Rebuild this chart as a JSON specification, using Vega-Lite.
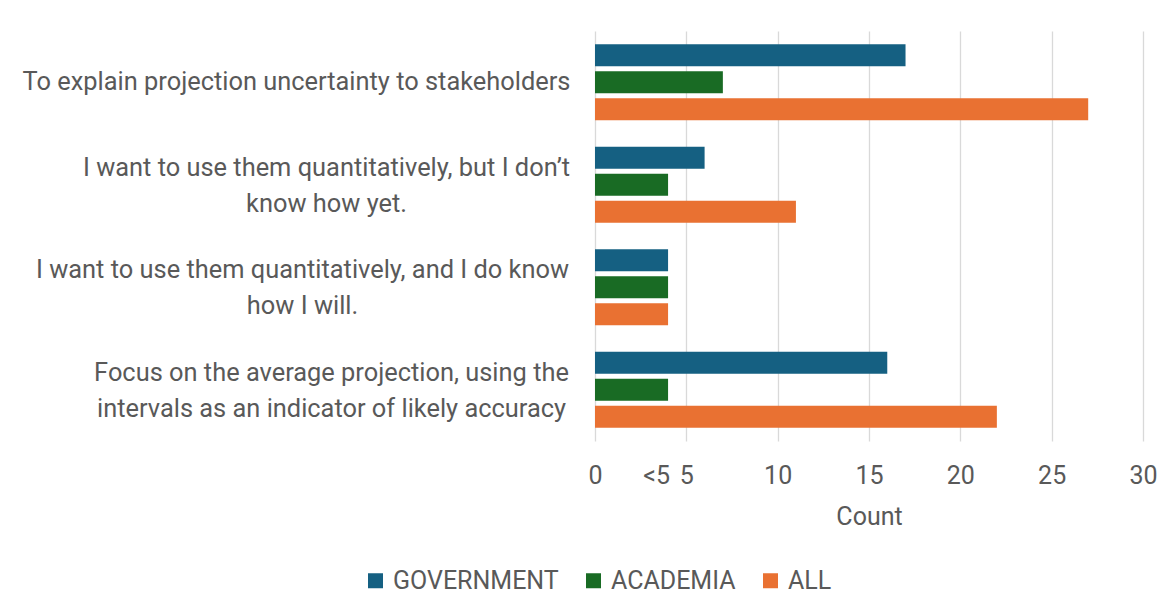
{
  "$schema": "https://vega.github.io/schema/vega-lite/v6.json",
  "autosize": "none",
  "width": 548,
  "height": 410,
  "padding": {"left": 595, "top": 31, "right": 27, "bottom": 173},
  "background": "white",
  "data": {
    "values": [
      {"question": "To explain projection uncertainty to stakeholders", "group": "GOVERNMENT", "count": 17},
      {"question": "To explain projection uncertainty to stakeholders", "group": "ACADEMIA", "count": 7},
      {"question": "To explain projection uncertainty to stakeholders", "group": "ALL", "count": 27},
      {"question": "I want to use them quantitatively, but I don’t\nknow how yet.", "group": "GOVERNMENT", "count": 6},
      {"question": "I want to use them quantitatively, but I don’t\nknow how yet.", "group": "ACADEMIA", "count": 4},
      {"question": "I want to use them quantitatively, but I don’t\nknow how yet.", "group": "ALL", "count": 11},
      {"question": "I want to use them quantitatively, and I do know\nhow I will.", "group": "GOVERNMENT", "count": 4},
      {"question": "I want to use them quantitatively, and I do know\nhow I will.", "group": "ACADEMIA", "count": 4},
      {"question": "I want to use them quantitatively, and I do know\nhow I will.", "group": "ALL", "count": 4},
      {"question": "Focus on the average projection, using the\nintervals as an indicator of likely accuracy", "group": "GOVERNMENT", "count": 16},
      {"question": "Focus on the average projection, using the\nintervals as an indicator of likely accuracy", "group": "ACADEMIA", "count": 4},
      {"question": "Focus on the average projection, using the\nintervals as an indicator of likely accuracy", "group": "ALL", "count": 22}
    ]
  },
  "mark": {"type": "bar"},
  "encoding": {
    "y": {
      "field": "question",
      "type": "nominal",
      "sort": null,
      "title": null,
      "scale": {"paddingInner": 0.26, "paddingOuter": 0.13},
      "axis": {
        "domain": false,
        "ticks": false,
        "labelExpr": "split(datum.label, '\\n')",
        "labelAlign": "center",
        "labelBaseline": "middle",
        "labelPadding": {
          "condition": [
            {"test": "indexof(datum.value, 'To explain') >= 0", "value": 299},
            {"test": "indexof(datum.value, 'but I') >= 0", "value": 269},
            {"test": "indexof(datum.value, 'do know') >= 0", "value": 293}
          ],
          "value": 264
        },
        "labelOffset": {
          "condition": {"test": "indexof(datum.value, '\\n') >= 0", "value": -17},
          "value": 0
        },
        "labelLimit": 700,
        "labelFont": "Roboto",
        "labelFontSize": 25.4,
        "labelLineHeight": 36,
        "labelColor": "#595959"
      }
    },
    "yOffset": {
      "field": "group",
      "type": "nominal",
      "sort": ["GOVERNMENT", "ACADEMIA", "ALL"],
      "scale": {"paddingInner": 0.185, "paddingOuter": 0}
    },
    "x": {
      "field": "count",
      "type": "quantitative",
      "title": "Count",
      "scale": {"domain": [0, 30], "nice": false},
      "axis": {
        "values": [0, 3.35, 5, 10, 15, 20, 25, 30],
        "labelExpr": "datum.value === 3.35 ? '<5' : datum.label",
        "labelOverlap": false,
        "labelFlush": false,
        "domain": false,
        "ticks": false,
        "grid": true,
        "gridColor": "#d9d9d9",
        "gridWidth": 1.3,
        "gridOpacity": {"condition": {"test": "datum.value === 3.35", "value": 0}, "value": 1},
        "labelPadding": 22,
        "labelFont": "Roboto",
        "labelFontSize": 25,
        "labelColor": "#595959",
        "titleFont": "Roboto",
        "titleFontSize": 25,
        "titleFontWeight": "normal",
        "titleColor": "#595959",
        "titlePadding": 16
      }
    },
    "color": {
      "field": "group",
      "type": "nominal",
      "sort": ["GOVERNMENT", "ACADEMIA", "ALL"],
      "scale": {"domain": ["GOVERNMENT", "ACADEMIA", "ALL"], "range": ["#156082", "#196B24", "#E97132"]},
      "legend": {
        "title": null,
        "orient": "none",
        "direction": "horizontal",
        "legendX": -232,
        "legendY": 537,
        "symbolType": "square",
        "symbolSize": 225,
        "symbolStrokeWidth": 0,
        "symbolOpacity": 1,
        "labelFont": "Roboto",
        "labelFontSize": 25,
        "labelColor": "#595959",
        "labelLimit": 400,
        "labelOffset": 5,
        "columnPadding": 22
      }
    }
  },
  "config": {
    "view": {"stroke": null}
  }
}
